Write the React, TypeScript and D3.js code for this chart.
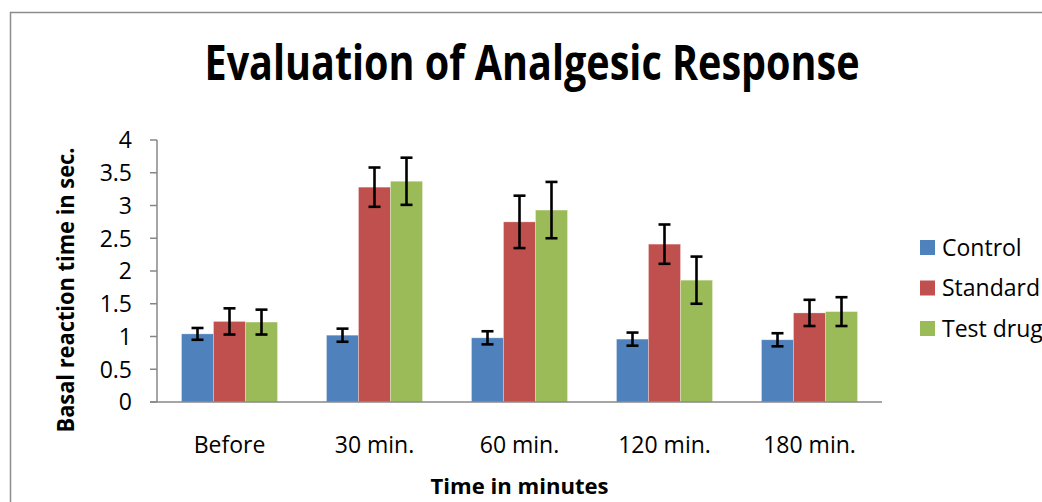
import React from 'react';
import * as d3 from 'd3';

const categories = ['Before', '30 min.', '60 min.', '120 min.', '180 min.'];
const seriesNames = ['Control', 'Standard', 'Test drug'];
const control = [1.04, 1.02, 0.98, 0.96, 0.95];
const standard = [1.23, 3.28, 2.75, 2.41, 1.36];
const testDrug = [1.22, 3.37, 2.93, 1.86, 1.38];
const controlErr = [0.09, 0.1, 0.1, 0.1, 0.1];
const standardErr = [0.2, 0.3, 0.4, 0.3, 0.2];
const testDrugErr = [0.19, 0.36, 0.43, 0.36, 0.22];
const yTicks = [0, 0.5, 1, 1.5, 2, 2.5, 3, 3.5, 4];

const colors = ['#4F81BD', '#C0504D', '#9BBB59'];
const axisColor = '#878787';
const font = "'Open Sans', sans-serif";

const App: React.FC = () => {
  const width = 1042;
  const height = 502;
  const margin = { top: 140, right: 160, bottom: 100, left: 157 };

  const values = [control, standard, testDrug];
  const errors = [controlErr, standardErr, testDrugErr];

  const x = d3.scaleBand<string>()
    .domain(categories)
    .range([margin.left, width - margin.right])
    .paddingInner(0.338)
    .paddingOuter(0.169);

  const xs = d3.scaleBand<string>()
    .domain(seriesNames)
    .range([0, x.bandwidth()]);

  const y = d3.scaleLinear()
    .domain([0, 4])
    .range([height - margin.bottom, margin.top]);

  const x0 = margin.left;
  const x1 = width - margin.right;
  const y0 = y(0);

  return (
    <svg width={width} height={height} style={{ position: 'absolute', left: 0, top: 0, background: '#fff' }}>
      <rect x={10.5} y={12.5} width={1100} height={600} fill="#fff" stroke="#8c8c8c" strokeWidth={1.5} />

      <text x={532} y={80} textAnchor="middle" fontFamily={font} fontWeight="bold" fontSize={48}
        textLength={655} lengthAdjust="spacingAndGlyphs">
        Evaluation of Analgesic Response
      </text>

      {/* bars */}
      {categories.map((c, i) => (
        <g key={c} transform={`translate(${x(c)},0)`}>
          {seriesNames.map((s, j) => {
            const v = values[j][i];
            const e = errors[j][i];
            const bx = xs(s)!;
            const cx = bx + xs.bandwidth() / 2;
            return (
              <g key={s}>
                <rect x={bx} y={y(v)} width={xs.bandwidth()} height={y0 - y(v)} fill={colors[j]}
                  stroke="#ffffff" strokeOpacity={0.35} strokeWidth={0.8} />
                <g stroke="#000" strokeWidth={2.6}>
                  <line x1={cx} x2={cx} y1={y(v + e)} y2={y(v - e)} />
                  <line x1={cx - 6} x2={cx + 6} y1={y(v + e)} y2={y(v + e)} />
                  <line x1={cx - 6} x2={cx + 6} y1={y(v - e)} y2={y(v - e)} />
                </g>
              </g>
            );
          })}
        </g>
      ))}

      {/* y axis */}
      <line x1={x0} x2={x0} y1={y(4)} y2={y0} stroke={axisColor} strokeWidth={1.5} />
      {yTicks.map(t => (
        <g key={t}>
          <line x1={x0 - 7} x2={x0} y1={y(t)} y2={y(t)} stroke={axisColor} strokeWidth={1.5} />
          <text x={132} y={y(t)} dy="0.36em" textAnchor="end" fontFamily={font} fontSize={23} fill="#000">
            {t}
          </text>
        </g>
      ))}

      {/* x axis */}
      <line x1={x0 - 7} x2={x1} y1={y0} y2={y0} stroke={axisColor} strokeWidth={1.5} />
      {categories.map(c => (
        <text key={c} x={x(c)! + x.bandwidth() / 2} y={453} textAnchor="middle" fontFamily={font} fontSize={23} fill="#000">
          {c}
        </text>
      ))}

      <text x={(x0 + x1) / 2} y={494} textAnchor="middle" fontFamily={font} fontWeight="bold" fontSize={22}
        textLength={178} lengthAdjust="spacingAndGlyphs">
        Time in minutes
      </text>

      <text transform={`translate(74,${290}) rotate(-90)`} textAnchor="middle" fontFamily={font} fontWeight="bold"
        fontSize={23.5} textLength={285} lengthAdjust="spacingAndGlyphs">
        Basal reaction time in sec.
      </text>

      {/* legend */}
      {seriesNames.map((s, j) => (
        <g key={s} transform={`translate(920,${247.5 + j * 40.5})`}>
          <rect x={0} y={-7.5} width={15} height={15} fill={colors[j]} />
          <text x={22} y={0} dy="0.36em" fontFamily={font} fontSize={23} fill="#000">{s}</text>
        </g>
      ))}
    </svg>
  );
};

export default App;
